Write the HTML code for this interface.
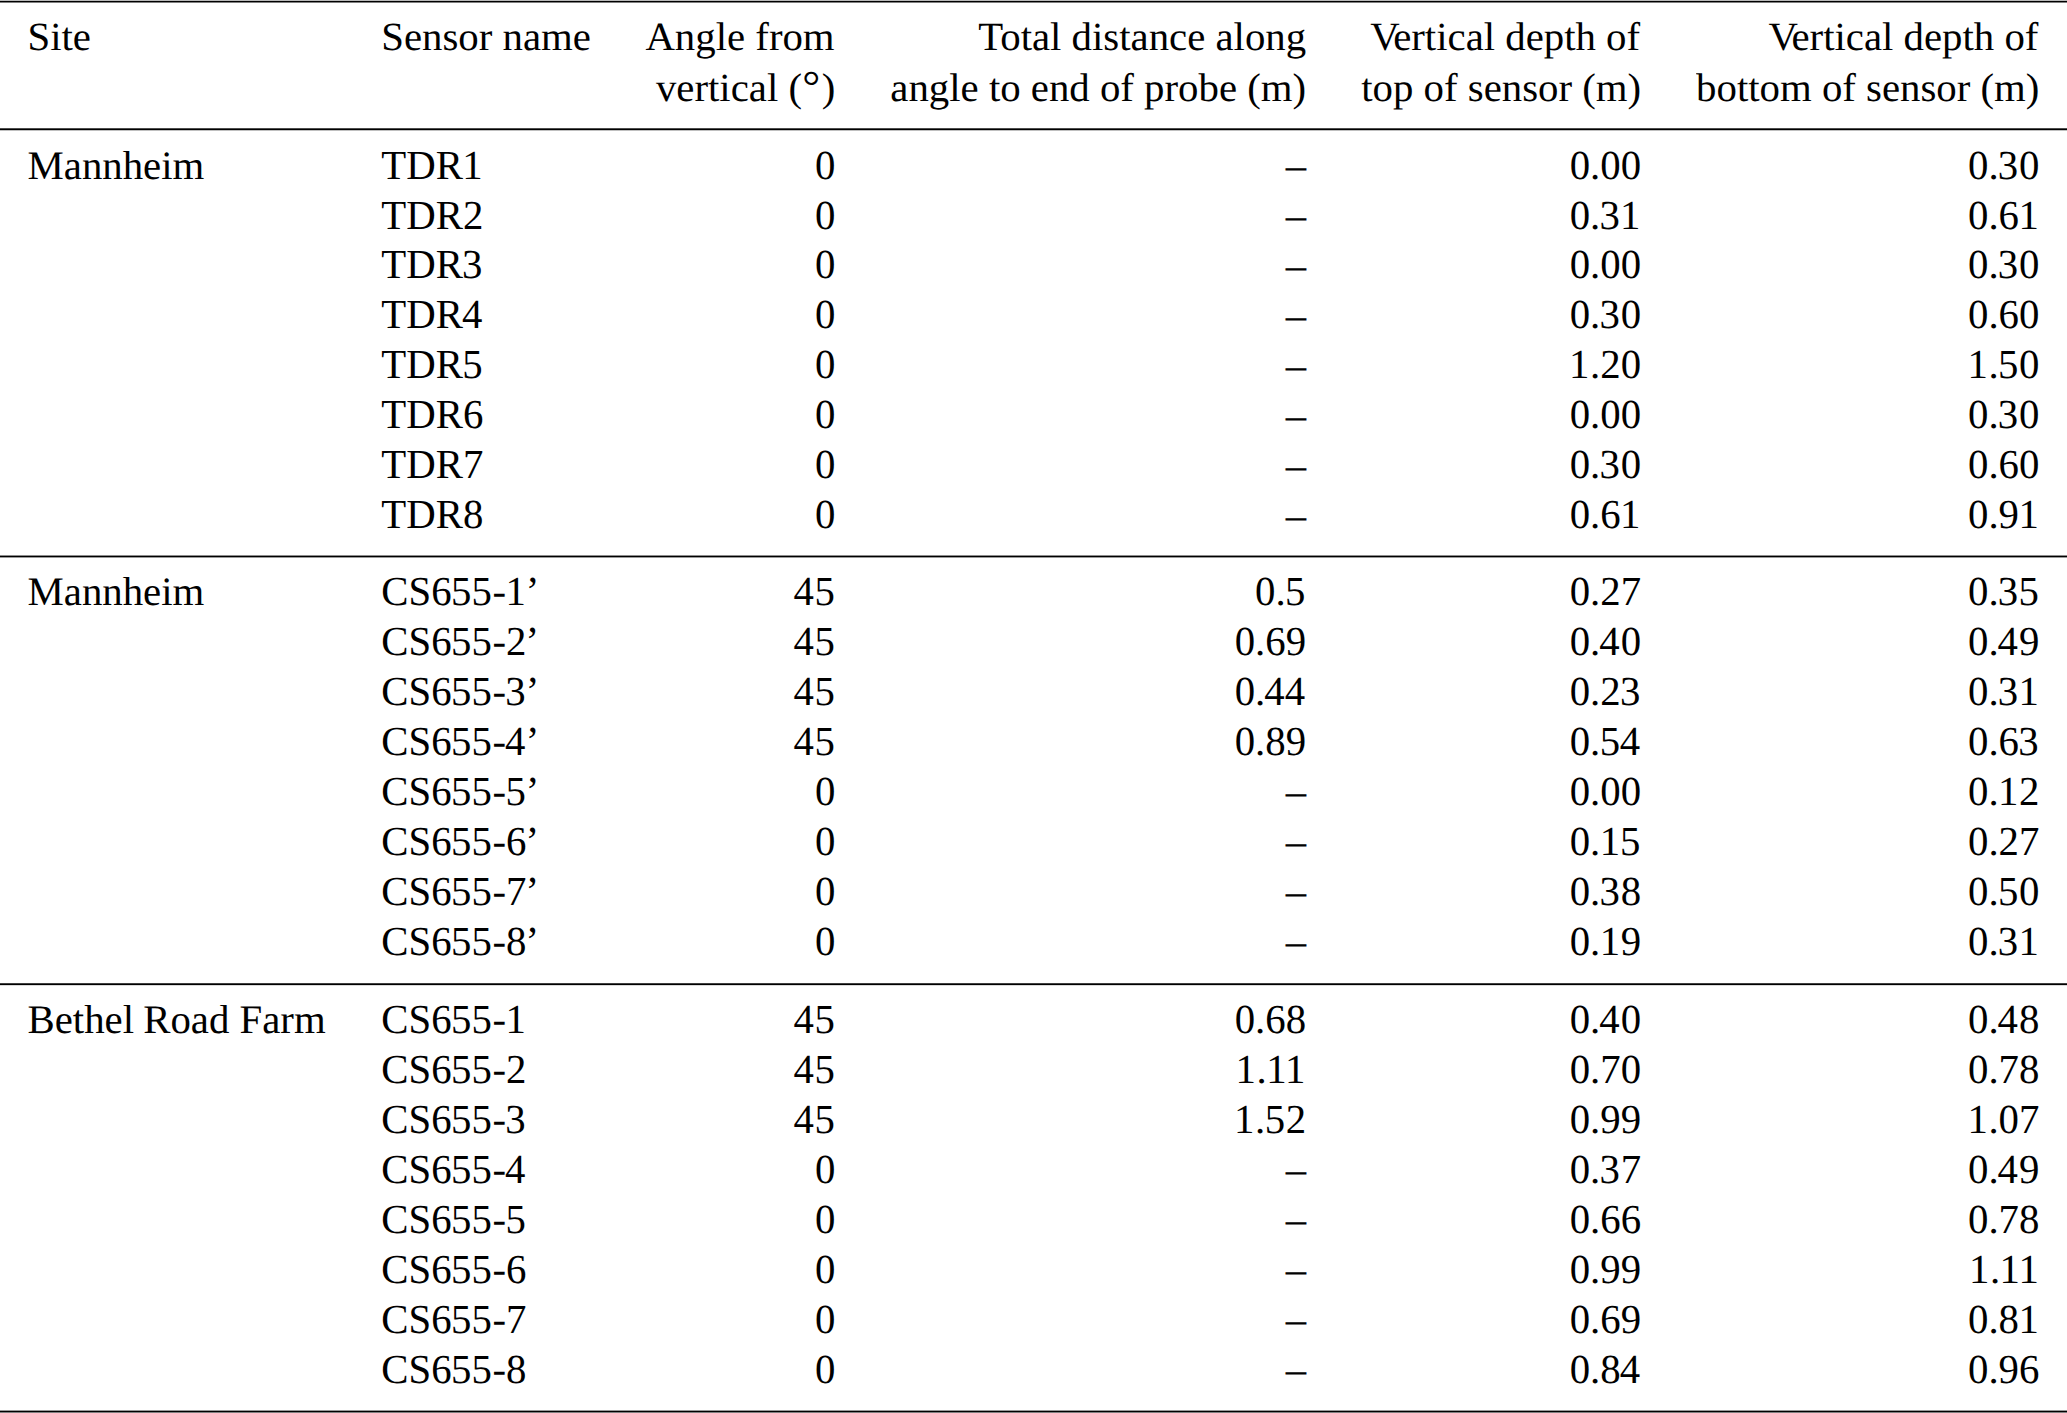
<!DOCTYPE html>
<html lang="en"><head><meta charset="utf-8"><title>Sensor installation table</title>
<style>
html,body{margin:0;padding:0;background:#fff;}
body{width:2067px;height:1413px;position:relative;overflow:hidden;font-family:"Liberation Serif",serif;font-size:40.8px;line-height:50px;color:#000;text-rendering:geometricPrecision;}
.t{position:absolute;white-space:pre;height:50px;transform-origin:0 38.3px;}
.h{transform:scaleY(0.98);} .s{transform:scaleY(0.99);} .b{transform:scaleY(1.012);}
.k1{position:relative;left:-0.6px} .k3{position:relative;left:-0.8px} .k4{position:relative;left:-1.0px} .k5{position:relative;left:-0.6px} .kq{position:relative;left:-0.8px}
.deg{font-size:45px;line-height:0;margin:0 1.5px 0 0.2px;}
.kv{position:relative;left:2px} .kr{position:relative;left:-1px}
.dash{position:relative;top:1px;}
.l{left:0;} .r{text-align:right;}
.hr{position:absolute;left:0;width:2067px;background:#000;}
</style></head><body>

<div class="hr" style="top:0px;height:1px;background:rgb(186,186,186)"></div>
<div class="hr" style="top:1px;height:1px;background:rgb(0,0,0)"></div>
<div class="hr" style="top:2px;height:1px;background:rgb(128,128,128)"></div>
<div class="hr" style="top:128px;height:1px;background:rgb(77,77,77)"></div>
<div class="hr" style="top:129px;height:1px;background:rgb(0,0,0)"></div>
<div class="hr" style="top:130px;height:1px;background:rgb(191,191,191)"></div>
<div class="hr" style="top:555px;height:1px;background:rgb(140,140,140)"></div>
<div class="hr" style="top:556px;height:1px;background:rgb(0,0,0)"></div>
<div class="hr" style="top:557px;height:1px;background:rgb(153,153,153)"></div>
<div class="hr" style="top:983px;height:1px;background:rgb(64,64,64)"></div>
<div class="hr" style="top:984px;height:1px;background:rgb(0,0,0)"></div>
<div class="hr" style="top:985px;height:1px;background:rgb(217,217,217)"></div>
<div class="hr" style="top:1410px;height:1px;background:rgb(153,153,153)"></div>
<div class="hr" style="top:1411px;height:1px;background:rgb(0,0,0)"></div>
<div class="hr" style="top:1412px;height:1px;background:rgb(128,128,128)"></div>
<div class="t h" style="left:27.5px;top:11.70px">Site</div>
<div class="t h" style="left:381.3px;top:11.70px">Sensor name</div>
<div class="t r h" style="right:1232.40px;top:11.70px">Angle from</div>
<div class="t r h" style="right:1231.70px;top:62.70px">vertical (<span class="deg">°</span>)</div>
<div class="t r h" style="right:760.90px;top:11.70px">Total distance along</div>
<div class="t r h" style="right:760.90px;top:62.70px">angle to end of probe (m)</div>
<div class="t r h" style="right:426.90px;top:11.70px"><span class="kv">V</span>ertical depth of</div>
<div class="t r h" style="right:425.90px;top:62.70px">top of sensor (m)</div>
<div class="t r h" style="right:28.60px;top:11.70px"><span class="kv">V</span>ertical depth of</div>
<div class="t r h" style="right:27.60px;top:62.70px">bottom of sensor (m)</div>
<div class="t s" style="left:27.5px;top:140.70px">Mannheim</div>
<div class="t b" style="left:381.3px;top:140.70px">TDR<span class="k1">1</span></div>
<div class="t r b" style="right:1231.60px;top:140.70px">0</div>
<div class="t r b" style="right:760.90px;top:140.70px">–</div>
<div class="t r b" style="right:425.90px;top:140.70px">0.00</div>
<div class="t r b" style="right:27.60px;top:140.70px">0.<span class="k3">3</span>0</div>
<div class="t b" style="left:381.3px;top:190.70px">TDR2</div>
<div class="t r b" style="right:1231.60px;top:190.70px">0</div>
<div class="t r b" style="right:760.90px;top:190.70px">–</div>
<div class="t r b" style="right:425.90px;top:190.70px">0.<span class="k3">3</span><span class="k1">1</span></div>
<div class="t r b" style="right:27.60px;top:190.70px">0.6<span class="k1">1</span></div>
<div class="t b" style="left:381.3px;top:239.70px">TDR<span class="k3">3</span></div>
<div class="t r b" style="right:1231.60px;top:239.70px">0</div>
<div class="t r b" style="right:760.90px;top:239.70px"><span class="dash">–</span></div>
<div class="t r b" style="right:425.90px;top:239.70px">0.00</div>
<div class="t r b" style="right:27.60px;top:239.70px">0.<span class="k3">3</span>0</div>
<div class="t b" style="left:381.3px;top:289.70px">TDR<span class="k4">4</span></div>
<div class="t r b" style="right:1231.60px;top:289.70px">0</div>
<div class="t r b" style="right:760.90px;top:289.70px"><span class="dash">–</span></div>
<div class="t r b" style="right:425.90px;top:289.70px">0.<span class="k3">3</span>0</div>
<div class="t r b" style="right:27.60px;top:289.70px">0.60</div>
<div class="t b" style="left:381.3px;top:339.70px">TDR<span class="k5">5</span></div>
<div class="t r b" style="right:1231.60px;top:339.70px">0</div>
<div class="t r b" style="right:760.90px;top:339.70px"><span class="dash">–</span></div>
<div class="t r b" style="right:425.90px;top:339.70px"><span class="k1">1</span>.20</div>
<div class="t r b" style="right:27.60px;top:339.70px"><span class="k1">1</span>.<span class="k5">5</span>0</div>
<div class="t b" style="left:381.3px;top:389.70px">TDR6</div>
<div class="t r b" style="right:1231.60px;top:389.70px">0</div>
<div class="t r b" style="right:760.90px;top:389.70px"><span class="dash">–</span></div>
<div class="t r b" style="right:425.90px;top:389.70px">0.00</div>
<div class="t r b" style="right:27.60px;top:389.70px">0.<span class="k3">3</span>0</div>
<div class="t b" style="left:381.3px;top:439.70px">TDR7</div>
<div class="t r b" style="right:1231.60px;top:439.70px">0</div>
<div class="t r b" style="right:760.90px;top:439.70px"><span class="dash">–</span></div>
<div class="t r b" style="right:425.90px;top:439.70px">0.<span class="k3">3</span>0</div>
<div class="t r b" style="right:27.60px;top:439.70px">0.60</div>
<div class="t b" style="left:381.3px;top:489.70px">TDR8</div>
<div class="t r b" style="right:1231.60px;top:489.70px">0</div>
<div class="t r b" style="right:760.90px;top:489.70px"><span class="dash">–</span></div>
<div class="t r b" style="right:425.90px;top:489.70px">0.6<span class="k1">1</span></div>
<div class="t r b" style="right:27.60px;top:489.70px">0.9<span class="k1">1</span></div>
<div class="t s" style="left:27.5px;top:566.70px">Mannheim</div>
<div class="t b" style="left:381.3px;top:566.70px">CS6<span class="k5">5</span><span class="k5">5</span>-<span class="k1">1</span><span class="kq">’</span></div>
<div class="t r b" style="right:1231.60px;top:566.70px"><span class="k4">4</span><span class="k5">5</span></div>
<div class="t r b" style="right:760.90px;top:566.70px">0.<span class="k5">5</span></div>
<div class="t r b" style="right:425.90px;top:566.70px">0.27</div>
<div class="t r b" style="right:27.60px;top:566.70px">0.<span class="k3">3</span><span class="k5">5</span></div>
<div class="t b" style="left:381.3px;top:616.70px">CS6<span class="k5">5</span><span class="k5">5</span>-2<span class="kq">’</span></div>
<div class="t r b" style="right:1231.60px;top:616.70px"><span class="k4">4</span><span class="k5">5</span></div>
<div class="t r b" style="right:760.90px;top:616.70px">0.69</div>
<div class="t r b" style="right:425.90px;top:616.70px">0.<span class="k4">4</span>0</div>
<div class="t r b" style="right:27.60px;top:616.70px">0.<span class="k4">4</span>9</div>
<div class="t b" style="left:381.3px;top:666.70px">CS6<span class="k5">5</span><span class="k5">5</span>-<span class="k3">3</span><span class="kq">’</span></div>
<div class="t r b" style="right:1231.60px;top:666.70px"><span class="k4">4</span><span class="k5">5</span></div>
<div class="t r b" style="right:760.90px;top:666.70px">0.<span class="k4">4</span><span class="k4">4</span></div>
<div class="t r b" style="right:425.90px;top:666.70px">0.2<span class="k3">3</span></div>
<div class="t r b" style="right:27.60px;top:666.70px">0.<span class="k3">3</span><span class="k1">1</span></div>
<div class="t b" style="left:381.3px;top:716.70px">CS6<span class="k5">5</span><span class="k5">5</span>-<span class="k4">4</span><span class="kq">’</span></div>
<div class="t r b" style="right:1231.60px;top:716.70px"><span class="k4">4</span><span class="k5">5</span></div>
<div class="t r b" style="right:760.90px;top:716.70px">0.89</div>
<div class="t r b" style="right:425.90px;top:716.70px">0.<span class="k5">5</span><span class="k4">4</span></div>
<div class="t r b" style="right:27.60px;top:716.70px">0.6<span class="k3">3</span></div>
<div class="t b" style="left:381.3px;top:766.70px">CS6<span class="k5">5</span><span class="k5">5</span>-<span class="k5">5</span><span class="kq">’</span></div>
<div class="t r b" style="right:1231.60px;top:766.70px">0</div>
<div class="t r b" style="right:760.90px;top:766.70px">–</div>
<div class="t r b" style="right:425.90px;top:766.70px">0.00</div>
<div class="t r b" style="right:27.60px;top:766.70px">0.<span class="k1">1</span>2</div>
<div class="t b" style="left:381.3px;top:816.70px">CS6<span class="k5">5</span><span class="k5">5</span>-6<span class="kq">’</span></div>
<div class="t r b" style="right:1231.60px;top:816.70px">0</div>
<div class="t r b" style="right:760.90px;top:816.70px">–</div>
<div class="t r b" style="right:425.90px;top:816.70px">0.<span class="k1">1</span><span class="k5">5</span></div>
<div class="t r b" style="right:27.60px;top:816.70px">0.27</div>
<div class="t b" style="left:381.3px;top:866.70px">CS6<span class="k5">5</span><span class="k5">5</span>-7<span class="kq">’</span></div>
<div class="t r b" style="right:1231.60px;top:866.70px">0</div>
<div class="t r b" style="right:760.90px;top:866.70px">–</div>
<div class="t r b" style="right:425.90px;top:866.70px">0.<span class="k3">3</span>8</div>
<div class="t r b" style="right:27.60px;top:866.70px">0.<span class="k5">5</span>0</div>
<div class="t b" style="left:381.3px;top:916.70px">CS6<span class="k5">5</span><span class="k5">5</span>-8<span class="kq">’</span></div>
<div class="t r b" style="right:1231.60px;top:916.70px">0</div>
<div class="t r b" style="right:760.90px;top:916.70px">–</div>
<div class="t r b" style="right:425.90px;top:916.70px">0.<span class="k1">1</span>9</div>
<div class="t r b" style="right:27.60px;top:916.70px">0.<span class="k3">3</span><span class="k1">1</span></div>
<div class="t s" style="left:27.5px;top:994.70px">Bethel <span class="kr">Road Farm</span></div>
<div class="t b" style="left:381.3px;top:994.70px">CS6<span class="k5">5</span><span class="k5">5</span>-<span class="k1">1</span></div>
<div class="t r b" style="right:1231.60px;top:994.70px"><span class="k4">4</span><span class="k5">5</span></div>
<div class="t r b" style="right:760.90px;top:994.70px">0.68</div>
<div class="t r b" style="right:425.90px;top:994.70px">0.<span class="k4">4</span>0</div>
<div class="t r b" style="right:27.60px;top:994.70px">0.<span class="k4">4</span>8</div>
<div class="t b" style="left:381.3px;top:1044.70px">CS6<span class="k5">5</span><span class="k5">5</span>-2</div>
<div class="t r b" style="right:1231.60px;top:1044.70px"><span class="k4">4</span><span class="k5">5</span></div>
<div class="t r b" style="right:760.90px;top:1044.70px"><span class="k1">1</span>.<span class="k1">1</span><span class="k1">1</span></div>
<div class="t r b" style="right:425.90px;top:1044.70px">0.70</div>
<div class="t r b" style="right:27.60px;top:1044.70px">0.78</div>
<div class="t b" style="left:381.3px;top:1094.70px">CS6<span class="k5">5</span><span class="k5">5</span>-<span class="k3">3</span></div>
<div class="t r b" style="right:1231.60px;top:1094.70px"><span class="k4">4</span><span class="k5">5</span></div>
<div class="t r b" style="right:760.90px;top:1094.70px"><span class="k1">1</span>.<span class="k5">5</span>2</div>
<div class="t r b" style="right:425.90px;top:1094.70px">0.99</div>
<div class="t r b" style="right:27.60px;top:1094.70px"><span class="k1">1</span>.07</div>
<div class="t b" style="left:381.3px;top:1144.70px">CS6<span class="k5">5</span><span class="k5">5</span>-<span class="k4">4</span></div>
<div class="t r b" style="right:1231.60px;top:1144.70px">0</div>
<div class="t r b" style="right:760.90px;top:1144.70px">–</div>
<div class="t r b" style="right:425.90px;top:1144.70px">0.<span class="k3">3</span>7</div>
<div class="t r b" style="right:27.60px;top:1144.70px">0.<span class="k4">4</span>9</div>
<div class="t b" style="left:381.3px;top:1194.70px">CS6<span class="k5">5</span><span class="k5">5</span>-<span class="k5">5</span></div>
<div class="t r b" style="right:1231.60px;top:1194.70px">0</div>
<div class="t r b" style="right:760.90px;top:1194.70px">–</div>
<div class="t r b" style="right:425.90px;top:1194.70px">0.66</div>
<div class="t r b" style="right:27.60px;top:1194.70px">0.78</div>
<div class="t b" style="left:381.3px;top:1244.70px">CS6<span class="k5">5</span><span class="k5">5</span>-6</div>
<div class="t r b" style="right:1231.60px;top:1244.70px">0</div>
<div class="t r b" style="right:760.90px;top:1244.70px">–</div>
<div class="t r b" style="right:425.90px;top:1244.70px">0.99</div>
<div class="t r b" style="right:27.60px;top:1244.70px"><span class="k1">1</span>.<span class="k1">1</span><span class="k1">1</span></div>
<div class="t b" style="left:381.3px;top:1294.70px">CS6<span class="k5">5</span><span class="k5">5</span>-7</div>
<div class="t r b" style="right:1231.60px;top:1294.70px">0</div>
<div class="t r b" style="right:760.90px;top:1294.70px">–</div>
<div class="t r b" style="right:425.90px;top:1294.70px">0.69</div>
<div class="t r b" style="right:27.60px;top:1294.70px">0.8<span class="k1">1</span></div>
<div class="t b" style="left:381.3px;top:1344.70px">CS6<span class="k5">5</span><span class="k5">5</span>-8</div>
<div class="t r b" style="right:1231.60px;top:1344.70px">0</div>
<div class="t r b" style="right:760.90px;top:1344.70px">–</div>
<div class="t r b" style="right:425.90px;top:1344.70px">0.8<span class="k4">4</span></div>
<div class="t r b" style="right:27.60px;top:1344.70px">0.96</div>
</body></html>
